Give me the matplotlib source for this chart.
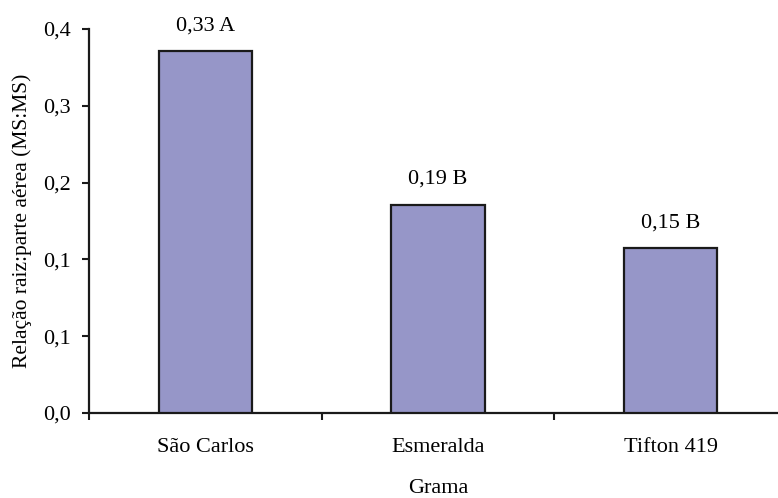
import matplotlib
matplotlib.use("Agg")
import matplotlib.pyplot as plt

categories = ["São Carlos", "Esmeralda", "Tifton 419"]
values = [0.33, 0.19, 0.15]
bar_labels = ["0,33 A", "0,19 B", "0,15 B"]
ytick_values = [0.0, 0.07, 0.14, 0.21, 0.28, 0.35]
ytick_labels = ["0,0", "0,1", "0,1", "0,2", "0,3", "0,4"]

plt.rcParams['font.family'] = ['Liberation Serif', 'DejaVu Serif']

fig = plt.figure(figsize=(7.78, 4.98), dpi=100)
ax = fig.add_axes([89/778, (498-413)/498, (787-89)/778, (413-29)/498])

x = list(range(len(categories)))
bars = ax.bar(x, values, width=0.4, color='#9696C8', edgecolor='#1a1a1a', linewidth=1.6, zorder=3)

for xi, v, lab in zip(x, values, bar_labels):
    ax.annotate(lab, (xi, v), xytext=(0, 18), textcoords='offset points',
                ha='center', va='center', fontsize=16)

ax.set_xlim(-0.5, 2.5)
ax.set_ylim(0, 0.35)
ax.set_yticks(ytick_values)
ax.set_yticklabels(ytick_labels)
ax.set_xticks([-0.5, 0.5, 1.5, 2.5])
ax.set_xticklabels([])
ax.set_xticks(x, minor=True)
ax.set_xticklabels(categories, minor=True)
ax.tick_params(axis='x', which='minor', length=0, pad=18, labelsize=16)
ax.tick_params(axis='x', which='major', direction='out', length=5, width=1.5, color='#1a1a1a')
ax.tick_params(axis='y', direction='out', length=5, width=1.5, color='#1a1a1a', pad=8, labelsize=16)

for s in ['top', 'right']:
    ax.spines[s].set_visible(False)
for s in ['left', 'bottom']:
    ax.spines[s].set_linewidth(1.6)
    ax.spines[s].set_color('#1a1a1a')

ax.set_ylabel("Relação raiz:parte aérea (MS:MS)", fontsize=15.5)
ax.yaxis.set_label_coords(-(89-32)/(787-89), 0.5)
ax.set_xlabel("Grama", fontsize=16)
ax.xaxis.set_label_coords((438-89)/(787-89), -(479-413)/(413-29))

fig.savefig("out.png", dpi=100)
